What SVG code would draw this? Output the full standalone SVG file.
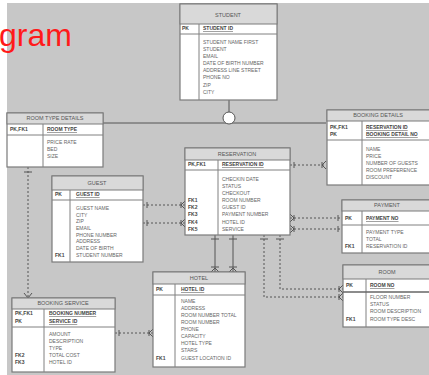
<svg xmlns="http://www.w3.org/2000/svg" width="429" height="375" viewBox="0 0 429 375">
<style>
.bg{fill:#c7c7c7}
.tb{fill:#ffffff;stroke:#7a7a7a;stroke-width:1.2}
.hd{fill:#d9d9d9;stroke:#7a7a7a;stroke-width:1}
.dv{stroke:#808080;stroke-width:1}
.t{font-family:"Liberation Sans",Arial,sans-serif;font-size:5px;fill:#666}
.h{font-family:"Liberation Sans",Arial,sans-serif;font-size:5.5px;fill:#555;text-anchor:middle}
.k{font-family:"Liberation Sans",Arial,sans-serif;font-size:5px;fill:#444;font-weight:bold}
.u{text-decoration:underline}
.c{stroke:#555;stroke-width:1;fill:none}
.d{stroke:#555;stroke-width:1;fill:none;stroke-dasharray:2 2}
</style>
<rect x="7" y="3" width="422" height="372" class="bg"/>
<text x="-1" y="46" font-family="Liberation Sans,Arial,sans-serif" font-size="32" fill="#ff1a1a">gram</text>

<g id="connectors">
<line x1="103" y1="123" x2="326" y2="123" class="c"/>
<line x1="229" y1="100" x2="229" y2="112" class="c"/>
<circle cx="229" cy="118" r="6" fill="#fff" stroke="#555" stroke-width="1"/>
<line x1="28" y1="167" x2="28" y2="298" class="d"/>
<path d="M24 293 L28 298 L32 293 M24 172 L32 172" class="c"/>
<line x1="290" y1="165" x2="326" y2="165" class="d"/>
<path d="M294 162 L294 168 M322 162 L322 168 M326 161 L322 165 L326 169" class="c"/>
<line x1="143" y1="205" x2="185" y2="205" class="d"/>
<line x1="143" y1="223" x2="185" y2="223" class="d"/>
<path d="M147 202 L147 208 M181 202 L181 208 M185 201 L181 205 L185 209 M147 220 L147 226 M181 220 L181 226 M185 219 L181 223 L185 227" class="c"/>
<line x1="290" y1="218" x2="342" y2="218" class="d"/>
<line x1="290" y1="229" x2="342" y2="229" class="d"/>
<path d="M294 215 L294 221 M290 214 L294 218 L290 222 M338 215 L338 221 M294 226 L294 232 M290 225 L294 229 L290 233 M338 226 L338 232" class="c"/>
<line x1="215" y1="235" x2="215" y2="272" class="c"/>
<line x1="233" y1="235" x2="233" y2="272" class="c"/>
<path d="M211 239 L219 239 M211 267 L219 267 M211 272 L215 268 L219 272 M229 239 L237 239 M229 267 L237 267 M229 272 L233 268 L237 272" class="c"/>
<path d="M264 235 L264 297 L343 297" class="d"/>
<path d="M280 235 L280 289 L343 289" class="d"/>
<path d="M260 239 L268 239 M276 239 L284 239 M339 286 L339 292 M343 285 L339 289 L343 293 M339 294 L339 300 M343 293 L339 297 L343 301" class="c"/>
<line x1="115" y1="333" x2="153" y2="333" class="d"/>
<path d="M119 330 L119 336 M149 330 L149 336 M153 329 L149 333 L153 337" class="c"/>
</g>

<g id="t-top">
<rect x="180" y="4" width="97" height="96" class="tb"/>
<rect x="180" y="4" width="97" height="20" class="hd"/>
<text x="228" y="17" class="h">STUDENT</text>
<line x1="199" y1="24" x2="199" y2="100" class="dv"/>
<line x1="180" y1="34" x2="277" y2="34" class="dv"/>
<text x="182" y="30" class="k">PK</text>
<text x="203" y="30" class="k u">STUDENT ID</text>
<text x="203" y="44" class="t">STUDENT NAME FIRST</text>
<text x="203" y="51" class="t">STUDENT</text>
<text x="203" y="58" class="t">EMAIL</text>
<text x="203" y="65" class="t">DATE OF BIRTH NUMBER</text>
<text x="203" y="72" class="t">ADDRESS LINE STREET</text>
<text x="203" y="79" class="t">PHONE NO</text>
<text x="203" y="87" class="t">ZIP</text>
<text x="203" y="94" class="t">CITY</text>
</g>

<g id="t-left">
<rect x="7" y="113" width="96" height="54" class="tb"/>
<rect x="7" y="113" width="96" height="11" class="hd"/>
<text x="55" y="120" class="h">ROOM TYPE DETAILS</text>
<line x1="43" y1="124" x2="43" y2="167" class="dv"/>
<line x1="7" y1="135" x2="103" y2="135" class="dv"/>
<text x="10" y="131" class="k">PK,FK1</text>
<text x="47" y="131" class="k u">ROOM TYPE</text>
<text x="47" y="144" class="t">PRICE RATE</text>
<text x="47" y="151" class="t">BED</text>
<text x="47" y="158" class="t">SIZE</text>
</g>

<g id="t-righttop">
<rect x="327" y="110" width="105" height="75" class="tb"/>
<rect x="327" y="110" width="105" height="11" class="hd"/>
<text x="378" y="117" class="h">BOOKING DETAILS</text>
<line x1="362" y1="121" x2="362" y2="185" class="dv"/>
<line x1="327" y1="140" x2="432" y2="140" class="dv"/>
<text x="330" y="129" class="k">PK,FK1</text>
<text x="330" y="136" class="k">PK</text>
<text x="366" y="129" class="k u">RESERVATION ID</text>
<text x="366" y="136" class="k u">BOOKING DETAIL NO</text>
<text x="366" y="151" class="t">NAME</text>
<text x="366" y="158" class="t">PRICE</text>
<text x="366" y="165" class="t">NUMBER OF GUESTS</text>
<text x="366" y="172" class="t">ROOM PREFERENCE</text>
<text x="366" y="179" class="t">DISCOUNT</text>
</g>

<g id="t-guest">
<rect x="52" y="176" width="91" height="86" class="tb"/>
<rect x="52" y="176" width="91" height="14" class="hd"/>
<text x="97" y="185" class="h">GUEST</text>
<line x1="70" y1="190" x2="70" y2="262" class="dv"/>
<line x1="52" y1="200" x2="143" y2="200" class="dv"/>
<text x="55" y="196" class="k">PK</text>
<text x="76" y="196" class="k u">GUEST ID</text>
<text x="76" y="210" class="t">GUEST NAME</text>
<text x="76" y="217" class="t">CITY</text>
<text x="76" y="223" class="t">ZIP</text>
<text x="76" y="230" class="t">EMAIL</text>
<text x="76" y="237" class="t">PHONE NUMBER</text>
<text x="76" y="243" class="t">ADDRESS</text>
<text x="76" y="250" class="t">DATE OF BIRTH</text>
<text x="55" y="257" class="k">FK1</text>
<text x="76" y="257" class="t">STUDENT NUMBER</text>
</g>

<g id="t-reservation">
<rect x="185" y="148" width="105" height="87" class="tb"/>
<rect x="185" y="148" width="105" height="12" class="hd"/>
<text x="237" y="156" class="h">RESERVATION</text>
<line x1="218" y1="160" x2="218" y2="235" class="dv"/>
<line x1="185" y1="170" x2="290" y2="170" class="dv"/>
<text x="188" y="166" class="k">PK,FK1</text>
<text x="222" y="166" class="k u">RESERVATION ID</text>
<text x="222" y="181" class="t">CHECKIN DATE</text>
<text x="222" y="188" class="t">STATUS</text>
<text x="222" y="195" class="t">CHECKOUT</text>
<text x="188" y="202" class="k">FK1</text><text x="222" y="202" class="t">ROOM NUMBER</text>
<text x="188" y="209" class="k">FK2</text><text x="222" y="209" class="t">GUEST ID</text>
<text x="188" y="216" class="k">FK3</text><text x="222" y="216" class="t">PAYMENT NUMBER</text>
<text x="188" y="224" class="k">FK4</text><text x="222" y="224" class="t">HOTEL ID</text>
<text x="188" y="231" class="k">FK5</text><text x="222" y="231" class="t">SERVICE</text>
</g>

<g id="t-rightmid">
<rect x="342" y="200" width="90" height="53" class="tb"/>
<rect x="342" y="200" width="90" height="11" class="hd"/>
<text x="387" y="207" class="h">PAYMENT</text>
<line x1="362" y1="211" x2="362" y2="253" class="dv"/>
<line x1="342" y1="225" x2="432" y2="225" class="dv"/>
<text x="345" y="220" class="k">PK</text>
<text x="366" y="220" class="k u">PAYMENT NO</text>
<text x="366" y="234" class="t">PAYMENT TYPE</text>
<text x="366" y="241" class="t">TOTAL</text>
<text x="345" y="248" class="k">FK1</text>
<text x="366" y="248" class="t">RESERVATION ID</text>
</g>

<g id="t-rightbottom">
<rect x="343" y="265" width="89" height="62" class="tb"/>
<rect x="343" y="265" width="89" height="14" class="hd"/>
<text x="387" y="274" class="h">ROOM</text>
<line x1="366" y1="279" x2="366" y2="327" class="dv"/>
<line x1="343" y1="292" x2="432" y2="292" stroke="#666" stroke-width="1.5"/>
<text x="346" y="287" class="k">PK</text>
<text x="370" y="287" class="k u">ROOM NO</text>
<text x="370" y="299" class="t">FLOOR NUMBER</text>
<text x="370" y="306" class="t">STATUS</text>
<text x="370" y="313" class="t">ROOM DESCRIPTION</text>
<text x="346" y="321" class="k">FK1</text>
<text x="370" y="321" class="t">ROOM TYPE DESC</text>
</g>

<g id="t-hotel">
<rect x="153" y="272" width="92" height="95" class="tb"/>
<rect x="153" y="272" width="92" height="12" class="hd"/>
<text x="199" y="280" class="h">HOTEL</text>
<line x1="175" y1="284" x2="175" y2="367" class="dv"/>
<line x1="153" y1="295" x2="245" y2="295" class="dv"/>
<text x="156" y="291" class="k">PK</text>
<text x="181" y="291" class="k u">HOTEL ID</text>
<text x="181" y="303" class="t">NAME</text>
<text x="181" y="310" class="t">ADDRESS</text>
<text x="181" y="317" class="t">ROOM NUMBER TOTAL</text>
<text x="181" y="324" class="t">ROOM NUMBER</text>
<text x="181" y="331" class="t">PHONE</text>
<text x="181" y="338" class="t">CAPACITY</text>
<text x="181" y="345" class="t">HOTEL TYPE</text>
<text x="181" y="352" class="t">STARS</text>
<text x="156" y="360" class="k">FK1</text>
<text x="181" y="360" class="t">GUEST LOCATION ID</text>
</g>

<g id="t-bottomleft">
<rect x="12" y="298" width="103" height="74" class="tb"/>
<rect x="12" y="298" width="103" height="11" class="hd"/>
<text x="63" y="305" class="h">BOOKING SERVICE</text>
<line x1="44" y1="309" x2="44" y2="372" class="dv"/>
<line x1="12" y1="327" x2="115" y2="327" class="dv"/>
<text x="15" y="315" class="k">PK,FK1</text>
<text x="15" y="323" class="k">PK</text>
<text x="49" y="315" class="k u">BOOKING NUMBER</text>
<text x="49" y="323" class="k u">SERVICE ID</text>
<text x="49" y="336" class="t">AMOUNT</text>
<text x="49" y="343" class="t">DESCRIPTION</text>
<text x="49" y="350" class="t">TYPE</text>
<text x="15" y="357" class="k">FK2</text><text x="49" y="357" class="t">TOTAL COST</text>
<text x="15" y="364" class="k">FK3</text><text x="49" y="364" class="t">HOTEL ID</text>
</g>
</svg>
